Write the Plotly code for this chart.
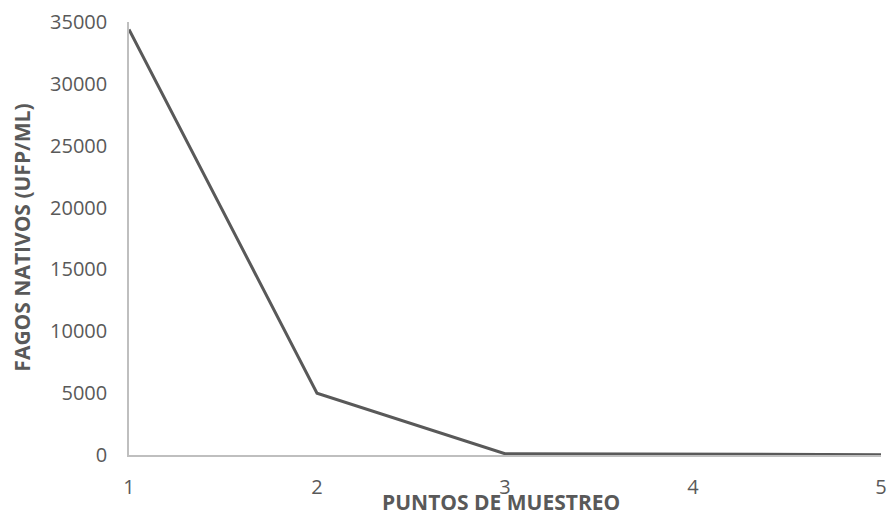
import plotly.graph_objects as go

# Sampling points and native phage counts (PFU/mL)
puntos = [1, 2, 3, 4, 5]
fagos = [34400, 5000, 100, 50, 30]
y_ticks = [0, 5000, 10000, 15000, 20000, 25000, 30000, 35000]
y_labels = [str(v) for v in y_ticks]

gris = "#595959"
fuente = "Open Sans, Liberation Sans, sans-serif"

fig = go.Figure(
    go.Scatter(
        x=puntos,
        y=fagos,
        mode="lines",
        line=dict(color=gris, width=3),
        hoverinfo="x+y",
    )
)

fig.update_layout(
    width=895,
    height=514,
    margin=dict(l=129, r=8, t=16, b=59),
    paper_bgcolor="white",
    plot_bgcolor="white",
    showlegend=False,
    font=dict(family=fuente, color=gris, size=20),
    xaxis=dict(
        range=[1, 5],
        tickvals=puntos,
        showgrid=False,
        zeroline=False,
        showline=True,
        linecolor="#bfbfbf",
        linewidth=1.5,
        ticks="outside",
        ticklen=0,
        ticklabelstandoff=13,
        tickfont=dict(size=20, color=gris),
    ),
    yaxis=dict(
        range=[0, 35000],
        tickvals=y_ticks,
        ticktext=y_labels,
        showgrid=False,
        zeroline=False,
        showline=True,
        linecolor="#bfbfbf",
        linewidth=1.5,
        ticks="outside",
        ticklen=0,
        ticklabelstandoff=16,
        tickfont=dict(size=20, color=gris),
    ),
    annotations=[
        dict(
            text="<b>PUNTOS DE MUESTREO</b>",
            xref="paper", yref="paper",
            x=0.495, y=0, yshift=-47,
            xanchor="center", yanchor="middle",
            showarrow=False,
            font=dict(size=21, color=gris, family=fuente),
        ),
        dict(
            text="<b>FAGOS NATIVOS (UFP/ML)</b>",
            xref="paper", yref="paper",
            x=0, xshift=-107, y=0.502,
            xanchor="center", yanchor="middle",
            textangle=-90,
            showarrow=False,
            font=dict(size=21, color=gris, family=fuente),
        ),
    ],
)

fig.write_html("out.html")
